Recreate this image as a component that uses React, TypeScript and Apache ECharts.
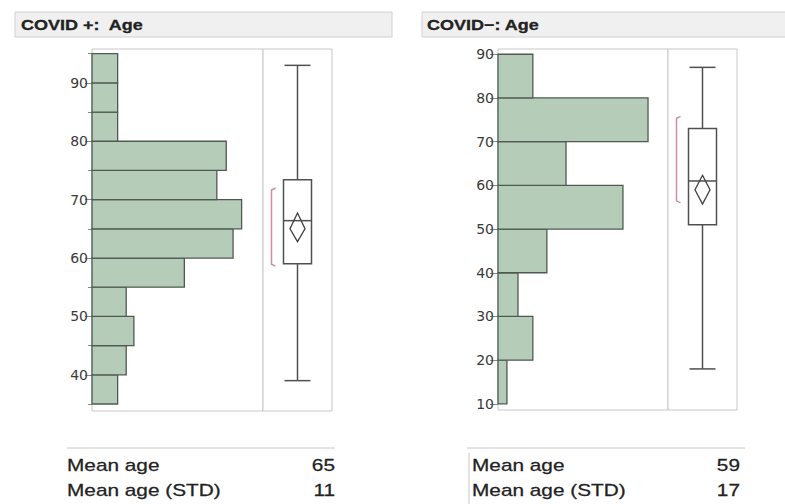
import React, { useEffect, useRef } from "react";
import * as echarts from "echarts";

// ---- data ----
const LEFT_BIN_START = [35, 40, 45, 50, 55, 60, 65, 70, 75, 80, 85, 90];
const LEFT_BIN_WIDTH = 5;
const LEFT_PCT = [3.0, 4.0, 4.9, 4.0, 10.8, 16.5, 17.5, 14.6, 15.7, 3.0, 3.0, 3.0];
const RIGHT_BIN_START = [10, 20, 30, 40, 50, 60, 70, 80];
const RIGHT_BIN_WIDTH = 10;
const RIGHT_PCT = [2.1, 8.2, 4.7, 11.5, 29.4, 16.0, 35.3, 8.2];
const LEFT_TICKS = [40, 50, 60, 70, 80, 90];
const LEFT_MINOR_TICKS = [35, 45, 55, 65, 75, 85, 95];
const RIGHT_TICKS = [10, 20, 30, 40, 50, 60, 70, 80, 90];
// [min, q1, median, q3, max, mean, meanCiLow, meanCiHigh, shortestHalfLow, shortestHalfHigh]
const LEFT_BOX = [39, 59, 66.4, 73.4, 93, 65, 62.8, 67.7, 58.6, 72];
const RIGHT_BOX = [18, 51, 61, 73, 87, 59, 55.7, 62.3, 56, 75.8];
const TITLES = ["COVID +:  Age", "COVID\u2212: Age"];
const SUMMARY_LABELS = ["Mean age", "Mean age (STD)"];
const LEFT_SUMMARY = ["65", "11"];
const RIGHT_SUMMARY = ["59", "17"];

const BAR_FILL = "#b5ccb9";
const BAR_STROKE = "#4e5a51";
const LINE = "#505050";
const FRAME = "#c8c8c8";

function histRender(params: any, api: any) {
  const lo = api.value(0);
  const hi = api.value(1);
  const v = api.value(2);
  const p0 = api.coord([0, hi]);
  const p1 = api.coord([v, lo]);
  return {
    type: "rect",
    shape: { x: p0[0], y: p0[1], width: p1[0] - p0[0], height: p1[1] - p0[1] },
    style: { fill: BAR_FILL, stroke: BAR_STROKE, lineWidth: 1.3 },
  };
}

function boxRender(params: any, api: any) {
  const v = (i: number) => api.value(i);
  const cx = api.coord([0.5, v(2)])[0];
  const y = (i: number) => api.coord([0.5, v(i)])[1];
  const hw = 14;
  const cap = 13;
  const dw = 7.5;
  const bx = cx - 26;
  const ls = { stroke: LINE, lineWidth: 1.5, fill: "none" };
  return {
    type: "group",
    children: [
      { type: "line", shape: { x1: cx, y1: y(4), x2: cx, y2: y(3) }, style: ls },
      { type: "line", shape: { x1: cx, y1: y(1), x2: cx, y2: y(0) }, style: ls },
      { type: "line", shape: { x1: cx - cap, y1: y(4), x2: cx + cap, y2: y(4) }, style: ls },
      { type: "line", shape: { x1: cx - cap, y1: y(0), x2: cx + cap, y2: y(0) }, style: ls },
      { type: "rect", shape: { x: cx - hw, y: y(3), width: 2 * hw, height: y(1) - y(3) }, style: { stroke: LINE, lineWidth: 1.5, fill: "#fff" } },
      { type: "line", shape: { x1: cx - hw, y1: y(2), x2: cx + hw, y2: y(2) }, style: ls },
      {
        type: "polygon",
        shape: { points: [[cx, y(7)], [cx + dw, y(5)], [cx, y(6)], [cx - dw, y(5)]] },
        style: { stroke: "#404040", lineWidth: 1.3, fill: "none" },
      },
      {
        type: "polyline",
        shape: { points: [[bx + 4, y(9)], [bx, y(9) + 2], [bx, y(8) - 2], [bx + 4, y(8)]] },
        style: { stroke: "#cf8ea2", lineWidth: 1.5, fill: "none" },
      },
    ],
  };
}

export default function App() {
  const ref = useRef<HTMLDivElement>(null);
  useEffect(() => {
    document.body.style.margin = "0";
    const chart = echarts.init(ref.current!, null, { renderer: "svg" });
    const leftData = LEFT_BIN_START.map((s, i) => [s, s + LEFT_BIN_WIDTH, LEFT_PCT[i]]);
    const rightData = RIGHT_BIN_START.map((s, i) => [s, s + RIGHT_BIN_WIDTH, RIGHT_PCT[i]]);
    const gridBase = { show: true, borderColor: FRAME, borderWidth: 1, backgroundColor: "#fff", containLabel: false };
    const labelStyle = { color: "#3a3a3a", fontSize: 14, fontFamily: "DejaVu Sans", margin: 4 };
    const tickStyle = { lineStyle: { color: "#888", width: 1 } };
    const hiddenY = (grid: number, min: number, max: number) => ({
      type: "value", gridIndex: grid, min, max, show: false, splitLine: { show: false },
    });
    const mainY = (grid: number, min: number, max: number, ticks: number[], len: number) => ({
      type: "value", gridIndex: grid, min, max, position: "left",
      splitLine: { show: false }, axisLine: { show: false },
      axisTick: { show: true, length: len, customValues: ticks, ...tickStyle },
      axisLabel: { ...labelStyle, customValues: ticks },
    });
    const textEl = (text: string, x: number, y: number, font: string, sx: number, align = "left", sw = 0.25) => ({
      type: "text", x, y, scaleX: sx,
      style: { text, font, fill: "#222", stroke: "#222", lineWidth: sw, textAlign: align, textVerticalAlign: "middle" },
    });
    chart.setOption({
      animation: false,
      grid: [
        { ...gridBase, left: 92, top: 49, width: 171, height: 362 },
        { ...gridBase, left: 263, top: 49, width: 69, height: 362 },
        { ...gridBase, left: 498, top: 49, width: 170, height: 361 },
        { ...gridBase, left: 668, top: 49, width: 69, height: 361 },
      ],
      xAxis: [
        { type: "value", gridIndex: 0, min: 0, max: 20, show: false, splitLine: { show: false } },
        { type: "value", gridIndex: 1, min: 0, max: 1, show: false, splitLine: { show: false } },
        { type: "value", gridIndex: 2, min: 0, max: 40, show: false, splitLine: { show: false } },
        { type: "value", gridIndex: 3, min: 0, max: 1, show: false, splitLine: { show: false } },
      ],
      yAxis: [
        mainY(0, 33.8, 95.8, LEFT_TICKS, 7),
        {
          type: "value", gridIndex: 0, min: 33.8, max: 95.8, position: "left",
          splitLine: { show: false }, axisLine: { show: false },
          axisTick: { show: true, length: 4, customValues: LEFT_MINOR_TICKS, ...tickStyle },
          axisLabel: { show: false },
        },
        hiddenY(1, 33.8, 95.8),
        mainY(2, 8.6, 91.2, RIGHT_TICKS, 8),
        hiddenY(3, 8.6, 91.2),
      ],
      series: [
        { type: "custom", xAxisIndex: 0, yAxisIndex: 0, renderItem: histRender, data: leftData, encode: { x: 2, y: [0, 1] } },
        { type: "custom", xAxisIndex: 1, yAxisIndex: 2, renderItem: boxRender, data: [LEFT_BOX], encode: { y: [0, 4] } },
        { type: "custom", xAxisIndex: 2, yAxisIndex: 3, renderItem: histRender, data: rightData, encode: { x: 2, y: [0, 1] } },
        { type: "custom", xAxisIndex: 3, yAxisIndex: 4, renderItem: boxRender, data: [RIGHT_BOX], encode: { y: [0, 4] } },
      ],
      graphic: [
        { type: "rect", shape: { x: 15, y: 12, width: 377, height: 25 }, style: { fill: "#f0f0f0", stroke: "#d0d0d0", lineWidth: 1 } },
        { type: "rect", shape: { x: 422, y: 12, width: 372, height: 25 }, style: { fill: "#f0f0f0", stroke: "#d0d0d0", lineWidth: 1 } },
        textEl(TITLES[0], 21, 25, "bold 15px 'Liberation Sans'", 1.2, "left", 0.3),
        textEl(TITLES[1], 427, 25, "bold 15px 'Liberation Sans'", 1.2, "left", 0.3),
        { type: "line", shape: { x1: 67, y1: 448, x2: 335, y2: 448 }, style: { stroke: "#c8c8c8", lineWidth: 1 } },
        { type: "line", shape: { x1: 467, y1: 448, x2: 745, y2: 448 }, style: { stroke: "#c8c8c8", lineWidth: 1 } },
        { type: "line", shape: { x1: 469, y1: 453, x2: 469, y2: 504 }, style: { stroke: "#c8c8c8", lineWidth: 1 } },
        textEl(SUMMARY_LABELS[0], 67, 465, "16px 'Liberation Sans'", 1.3),
        textEl(SUMMARY_LABELS[1], 67, 490, "16px 'Liberation Sans'", 1.3),
        textEl(LEFT_SUMMARY[0], 335, 465, "16px 'Liberation Sans'", 1.3, "right"),
        textEl(LEFT_SUMMARY[1], 335, 490, "16px 'Liberation Sans'", 1.3, "right"),
        textEl(SUMMARY_LABELS[0], 472, 465, "16px 'Liberation Sans'", 1.3),
        textEl(SUMMARY_LABELS[1], 472, 490, "16px 'Liberation Sans'", 1.3),
        textEl(RIGHT_SUMMARY[0], 740, 465, "16px 'Liberation Sans'", 1.3, "right"),
        textEl(RIGHT_SUMMARY[1], 740, 490, "16px 'Liberation Sans'", 1.3, "right"),
      ],
    });
    return () => chart.dispose();
  }, []);
  return <div ref={ref} style={{ width: 785, height: 504, background: "#fff" }} />;
}
